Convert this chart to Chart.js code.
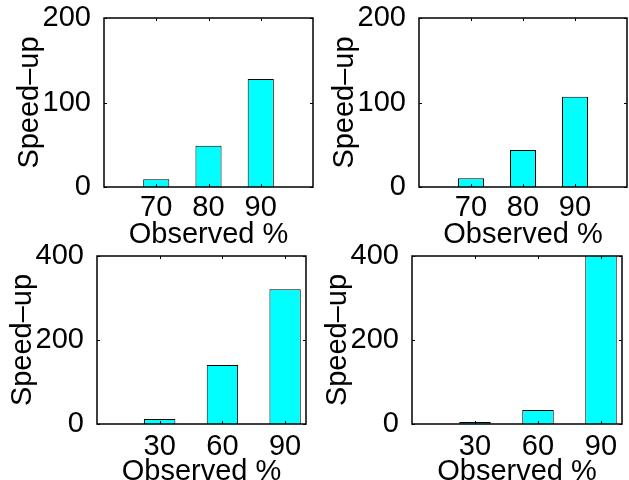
<!DOCTYPE html>
<html>
<head>
<meta charset="utf-8">
<script src="https://cdn.jsdelivr.net/npm/chart.js@4"></script>
<style>
  html, body { margin: 0; padding: 0; background: #fff; }
  body { width: 629px; height: 480px; position: relative; overflow: hidden; }
  canvas { position: absolute; }
</style>
</head>
<body>
<canvas id="c1"></canvas>
<canvas id="c2"></canvas>
<canvas id="c3"></canvas>
<canvas id="c4"></canvas>
<script>
// values
var topCats = [70, 80, 90];
var topLeftVals = [9.2, 48.8, 127.8];
var topRightVals = [10.3, 43.8, 106.9];
var topTicksY = [0, 100, 200];

var bottomCats = [30, 60, 90];
var bottomLeftVals = [11.9, 140.5, 320.7];
var bottomRightVals = [5, 33.3, 450]; // last bar runs off the top of the axes
var bottomTicksY = [0, 200, 400];

Chart.defaults.font.family = "'Liberation Sans', Arial, Helvetica, sans-serif";
Chart.defaults.font.size = 29;
Chart.defaults.color = '#000';

// box round the plot area plus small inward ticks on all four sides
var boxPlugin = {
    id: 'box',
    afterDatasetsDraw: function (chart) {
        var ctx = chart.ctx;
        var a = chart.chartArea;
        var x = chart.scales.x, y = chart.scales.y;
        ctx.save();
        ctx.strokeStyle = '#000';
        ctx.lineWidth = 1;
        ctx.beginPath();
        x.ticks.forEach(function (t) {
            var px = Math.round(x.getPixelForValue(t.value)) + 0.5;
            ctx.moveTo(px, a.top); ctx.lineTo(px, a.top + 3);
            ctx.moveTo(px, a.bottom); ctx.lineTo(px, a.bottom - 3);
        });
        y.ticks.forEach(function (t) {
            var py = Math.round(y.getPixelForValue(t.value)) + 0.5;
            ctx.moveTo(a.left, py); ctx.lineTo(a.left + 3, py);
            ctx.moveTo(a.right, py); ctx.lineTo(a.right - 3, py);
        });
        ctx.stroke();
        ctx.lineWidth = 1.5;
        ctx.strokeRect(a.left, a.top, a.right - a.left, a.bottom - a.top);
        ctx.restore();
    }
};

function makePanel(id, box, cats, vals, xMin, xMax, yMax, yTicks, xPad) {
    var el = document.getElementById(id);
    el.width = box.w + 100 + 6;
    el.height = box.h + 18 + 62;
    el.style.left = (box.l - 100) + 'px';
    el.style.top = (box.t - 18) + 'px';

    return new Chart(el, {
        type: 'bar',
        data: {
            datasets: [{
                data: cats.map(function (c, i) { return { x: c, y: vals[i] }; }),
                backgroundColor: '#00FFFF',
                borderColor: '#000',
                borderWidth: 1,
                categoryPercentage: 1,
                barPercentage: 0.5,
                clip: 0
            }]
        },
        options: {
            responsive: false,
            animation: false,
            events: [],
            layout: { padding: { left: 0, top: 18, right: 6, bottom: 0 } },
            plugins: { legend: { display: false }, tooltip: { enabled: false } },
            scales: {
                x: {
                    type: 'linear',
                    offset: false,
                    min: xMin,
                    max: xMax,
                    grid: { display: false, offset: false },
                    border: { display: false },
                    ticks: { padding: xPad, maxRotation: 0, font: { size: 29, lineHeight: 0.8 } },
                    afterBuildTicks: function (s) { s.ticks = cats.map(function (v) { return { value: v }; }); },
                    afterFit: function (s) { s.height = 62; s.paddingLeft = 0; s.paddingRight = 0; },
                    title: { display: true, text: 'Observed %', font: { size: 29, lineHeight: 1 }, padding: 0 }
                },
                y: {
                    min: 0,
                    max: yMax,
                    grid: { display: false },
                    border: { display: false },
                    ticks: { padding: 5 },
                    afterBuildTicks: function (s) { s.ticks = yTicks.map(function (v) { return { value: v }; }); },
                    afterFit: function (s) { s.width = 100; s.paddingTop = 0; s.paddingBottom = 0; },
                    title: { display: true, text: 'Speed\u2013up', font: { size: 29 }, padding: { top: 9, bottom: 0 } }
                }
            }
        },
        plugins: [boxPlugin]
    });
}

makePanel('c1', { l: 104, t: 18, w: 209, h: 169 }, topCats, topLeftVals, 60, 100, 200, topTicksY, 1);
makePanel('c2', { l: 419, t: 18, w: 208, h: 169 }, topCats, topRightVals, 60, 100, 200, topTicksY, 1);
makePanel('c3', { l: 97, t: 256, w: 209, h: 168 }, bottomCats, bottomLeftVals, 0, 100, 400, bottomTicksY, 3);
makePanel('c4', { l: 412, t: 256, w: 210, h: 168 }, bottomCats, bottomRightVals, 0, 100, 400, bottomTicksY, 3);
</script>
</body>
</html>
